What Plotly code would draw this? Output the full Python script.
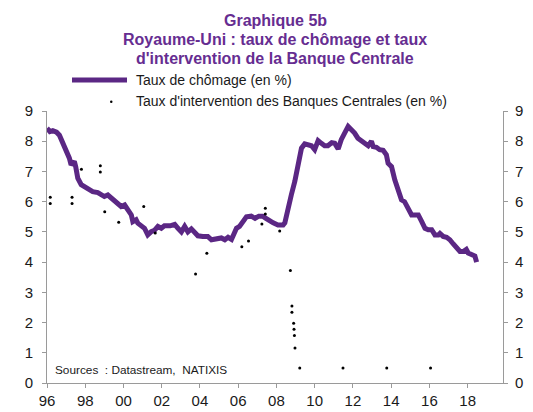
import plotly.graph_objects as go

# Unemployment rate (%), UK - decimal years
unemp_x = [1996.0, 1996.15, 1996.3, 1996.5, 1996.65, 1996.8, 1997.0, 1997.17, 1997.26, 1997.43,
           1997.5, 1997.61, 1997.79, 1998.05, 1998.39, 1998.66, 1998.83, 1999.0, 1999.18, 1999.35,
           1999.53, 1999.71, 1999.88, 2000.06, 2000.23, 2000.41, 2000.49, 2000.66, 2000.75, 2000.93,
           2001.1, 2001.27, 2001.45, 2001.62, 2001.8, 2001.98, 2002.14, 2002.44, 2002.68, 2002.85,
           2003.03, 2003.2, 2003.37, 2003.55, 2003.72, 2003.89, 2004.15, 2004.41, 2004.6, 2004.86,
           2005.12, 2005.3, 2005.47, 2005.65, 2005.83, 2005.91, 2006.07, 2006.27, 2006.43, 2006.68,
           2006.88, 2007.08, 2007.28, 2007.45, 2007.66, 2007.83, 2008.08, 2008.35, 2008.44, 2008.61,
           2008.78, 2008.96, 2009.13, 2009.31, 2009.48, 2009.65, 2009.83, 2010.0, 2010.18, 2010.35,
           2010.52, 2010.69, 2010.89, 2011.05, 2011.23, 2011.39, 2011.57, 2011.75, 2011.92, 2012.09,
           2012.26, 2012.44, 2012.61, 2012.8, 2012.97, 2013.06, 2013.23, 2013.4, 2013.58, 2013.75,
           2013.84, 2014.02, 2014.19, 2014.36, 2014.54, 2014.7, 2014.89, 2015.07, 2015.22, 2015.42,
           2015.6, 2015.77, 2015.94, 2016.12, 2016.29, 2016.47, 2016.55, 2016.72, 2016.9, 2017.07,
           2017.25, 2017.43, 2017.6, 2017.77, 2017.93, 2018.03, 2018.2, 2018.38, 2018.47]
unemp_y = [8.43, 8.32, 8.35, 8.3, 8.2, 7.99, 7.77, 7.44, 7.22, 7.33,
           7.16, 6.78, 6.56, 6.45, 6.33, 6.3, 6.23, 6.17, 6.22, 6.12,
           6.0, 5.89, 5.84, 5.89, 5.73, 5.56, 5.34, 5.4, 5.29, 5.2,
           5.12, 4.9, 5.01, 5.05, 5.18, 5.12, 5.2, 5.2, 5.25, 5.12,
           5.0, 5.18, 5.0, 5.1, 4.95, 4.87, 4.85, 4.85, 4.74, 4.75,
           4.8, 4.74, 4.82, 4.75, 4.95, 5.12, 5.18, 5.34, 5.5, 5.52,
           5.45, 5.52, 5.52, 5.45, 5.34, 5.3, 5.23, 5.23, 5.3, 5.84,
           6.23, 6.67, 7.27, 7.77, 7.91, 7.88, 7.85, 7.72, 8.02, 7.93,
           7.85, 7.85, 7.95, 7.93, 7.74, 8.05, 8.32, 8.49, 8.38, 8.27,
           8.1, 8.0, 7.93, 7.85, 8.0, 7.82, 7.8, 7.72, 7.7, 7.55,
           7.27, 7.16, 6.72, 6.39, 6.06, 6.0, 5.73, 5.56, 5.56, 5.56,
           5.34, 5.12, 5.07, 5.07, 4.9, 4.9, 4.95, 4.85, 4.82, 4.74,
           4.6, 4.46, 4.35, 4.35, 4.42, 4.3, 4.25, 4.2, 4.0]

# Central bank policy rate (%)
rate_x = [1996.17, 1996.17, 1997.31, 1997.31, 1997.80, 1998.79, 1998.79, 1999.02, 1999.75,
          2001.06, 2001.66, 2003.77, 2004.36, 2006.19, 2006.54, 2007.24, 2007.42, 2007.42,
          2008.17, 2008.73, 2008.81, 2008.81, 2008.90, 2008.92, 2008.94, 2008.97, 2009.22,
          2011.48, 2013.77, 2016.06]
rate_y = [6.15, 5.94, 6.15, 5.94, 7.07, 7.19, 6.98, 5.67, 5.32,
          5.84, 4.96, 3.61, 4.29, 4.51, 4.70, 5.26, 5.78, 5.59,
          5.03, 3.72, 2.55, 2.34, 1.98, 1.78, 1.57, 1.16, 0.5,
          0.5, 0.5, 0.5]

tick_vals = [1996, 1998, 2000, 2002, 2004, 2006, 2008, 2010, 2012, 2014, 2016, 2018]
tick_text = ["96", "98", "00", "02", "04", "06", "08", "10", "12", "14", "16", "18"]
y_ticks = [0, 1, 2, 3, 4, 5, 6, 7, 8, 9]

title_lines = ["Graphique 5b",
               "Royaume-Uni : taux de chômage et taux",
               "d'intervention de la Banque Centrale"]
legend_names = ["Taux de chômage (en %)",
                "Taux d'intervention des Banques Centrales (en %)"]

PURPLE = "#5B2784"
TITLE_COL = "#662D91"
FONT = "Liberation Sans, Arial, sans-serif"

# plot-area geometry (pixels) for converting legend/title positions to paper coords
L, R, T, B = 47, 503, 111, 383
def px(xp):
    return (xp - L) / (R - L)
def py(yp):
    return (B - yp) / (B - T)

fig = go.Figure()
fig.add_trace(go.Scatter(
    x=unemp_x, y=unemp_y, mode="lines", name=legend_names[0],
    line=dict(color=PURPLE, width=5)))
fig.add_trace(go.Scatter(
    x=rate_x, y=rate_y, mode="markers", name=legend_names[1],
    marker=dict(color="black", size=3)))
# invisible trace to activate right axis
fig.add_trace(go.Scatter(x=[1996], y=[0], yaxis="y2", mode="markers",
                         marker=dict(opacity=0), showlegend=False, hoverinfo="skip"))

axis_col = "#9a9a9a"
annotations = []
for i, line in enumerate(title_lines):
    annotations.append(dict(text="<b>" + line + "</b>", x=0.5, xref="paper", xanchor="center",
                            y=py(20 + 19 * i), yref="paper", yanchor="middle",
                            showarrow=False, font=dict(family=FONT, size=16, color=TITLE_COL)))
for i, name in enumerate(legend_names):
    annotations.append(dict(text=name, x=px(134), xref="paper", xanchor="left",
                            y=py(80 + 21 * i), yref="paper", yanchor="middle",
                            showarrow=False, font=dict(size=14, color="#1a1a1a")))
annotations.append(dict(text="Sources  : Datastream,  NATIXIS", x=0.013, xref="paper",
                        y=0.015, yref="paper", xanchor="left", yanchor="bottom",
                        showarrow=False, font=dict(size=11.8, color="#1a1a1a")))

shapes = [
    dict(type="line", xref="paper", yref="paper", x0=px(72), x1=px(127), y0=py(80), y1=py(80),
         line=dict(color=PURPLE, width=5)),
    dict(type="circle", xref="paper", yref="paper", x0=px(110), x1=px(112.5), y0=py(100.5),
         y1=py(103), fillcolor="black", line=dict(width=0)),
]

fig.update_layout(
    template="none",
    width=533, height=412, autosize=False,
    margin=dict(l=L, r=533 - R, t=T, b=412 - B, pad=0, autoexpand=False),
    paper_bgcolor="white", plot_bgcolor="white",
    font=dict(family=FONT, color="#1a1a1a"),
    xaxis=dict(range=[1996, 2019.85], tickvals=tick_vals, ticktext=tick_text, automargin=False,
               showgrid=False, zeroline=False, showline=True, linecolor=axis_col, linewidth=1,
               ticks="outside", ticklen=4, tickcolor=axis_col, tickfont=dict(size=15)),
    yaxis=dict(range=[0, 9], tickvals=y_ticks, showgrid=False, zeroline=False, automargin=False,
               showline=True, linecolor=axis_col, linewidth=1,
               ticks="outside", ticklen=4, tickcolor=axis_col, tickfont=dict(size=15),
               ticklabelstandoff=6),
    yaxis2=dict(range=[0, 9], tickvals=y_ticks, overlaying="y", side="right", automargin=False,
                showgrid=False, zeroline=False, showline=True, linecolor=axis_col, linewidth=1,
                ticks="outside", ticklen=4, tickcolor=axis_col, tickfont=dict(size=15),
                ticklabelstandoff=4),
    showlegend=False,
    annotations=annotations,
    shapes=shapes,
)

fig.write_html("out.html", config={"displayModeBar": False, "responsive": False},
               post_script="document.body.style.margin='0px';")
